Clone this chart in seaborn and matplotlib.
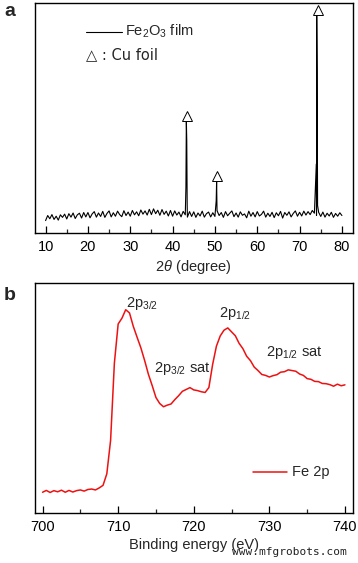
import numpy as np
import pandas as pd
import matplotlib
matplotlib.use("Agg")
import matplotlib.pyplot as plt
import seaborn as sns

# ---------------- data: XRD (panel a) ----------------
xrd_base_theta = np.round(np.arange(10, 80.001, 0.5), 2)
xrd_base_int = [
    5.4, 7.6, 6.2, 8.0, 5.9, 7.3, 5.6, 7.9, 6.8, 8.2,
    6.1, 8.4, 6.9, 8.7, 6.3, 7.9, 8.6, 6.5, 8.9, 7.0,
    8.9, 6.6, 8.3, 9.3, 6.9, 8.7, 7.2, 9.4, 6.8, 8.5,
    9.6, 7.0, 8.8, 7.3, 9.5, 8.0, 7.1, 9.7, 7.6, 9.1,
    7.3, 9.8, 7.9, 9.2, 7.5, 10.0, 8.2, 9.6, 7.8, 10.3,
    8.0, 10.5, 8.4, 9.9, 7.7, 10.2, 8.1, 9.5, 7.4, 9.8,
    7.3, 9.6, 7.8, 9.1, 7.0, 9.4, 7.9, 6.9, 9.3, 7.2,
    9.2, 6.8, 8.7, 7.4, 9.5, 6.9, 8.4, 9.1, 7.0, 8.8,
    7.2, 9.4, 7.6, 8.9, 6.8, 9.3, 7.5, 8.6, 9.6, 7.1,
    8.7, 6.9, 9.2, 7.7, 8.3, 6.6, 9.5, 7.3, 8.9, 7.0,
    9.3, 7.4, 8.1, 9.5, 6.9, 8.6, 7.2, 9.0, 6.7, 8.8,
    7.5, 9.4, 6.5, 8.9, 7.7, 9.2, 7.0, 8.5, 9.6, 7.3,
    9.0, 7.4, 9.5, 7.8, 9.3, 8.0, 9.8, 8.6, 7.6, 9.0,
    7.2, 9.1, 6.9, 8.6, 7.4, 9.0, 6.8, 8.5, 7.3, 8.8,
    7.6,
]
xrd_peak_theta = [43.15, 43.25, 43.35, 43.45, 50.3, 50.4, 50.5, 73.95, 74.05, 74.15, 74.25]
xrd_peak_int = [20.0, 48.9, 40.0, 12.0, 14.0, 22.2, 10.0, 30.0, 94.8, 70.0, 12.0]
cu_theta = [43.5, 50.6, 74.25]
cu_int = [51.0, 24.8, 97.0]

# ---------------- data: XPS (panel b) ----------------
xps_energy = np.round(np.arange(700, 740.001, 0.5), 2)
xps_int = [
    9.0, 9.8, 8.9, 9.7, 9.2, 9.9, 9.0, 9.8, 9.1, 9.7,
    10.0, 9.5, 10.2, 10.4, 10.0, 10.9, 12.0, 17.0, 31.5, 65.0,
    82.0, 84.5, 88.2, 86.8, 81.0, 76.3, 71.7, 66.2, 60.2, 55.3,
    50.1, 47.5, 46.1, 46.8, 47.3, 49.2, 50.9, 52.8, 53.6, 54.4,
    53.4, 53.1, 52.6, 52.3, 54.4, 64.5, 72.4, 76.8, 79.3, 80.3,
    78.6, 76.9, 73.6, 71.3, 68.0, 66.1, 63.3, 61.8, 60.1, 59.7,
    59.0, 59.6, 60.0, 61.1, 61.3, 62.1, 61.8, 61.5, 60.3, 59.7,
    58.3, 58.0, 57.1, 57.0, 56.2, 56.1, 55.7, 55.0, 55.9, 55.2,
    55.6,
]

xrd_theta_all = np.concatenate([xrd_base_theta, xrd_peak_theta])
xrd_int_all = np.concatenate([xrd_base_int, xrd_peak_int])
order = np.argsort(xrd_theta_all)
df_xrd = pd.DataFrame({"theta": xrd_theta_all[order], "I": xrd_int_all[order]})
df_xps = pd.DataFrame({"E": xps_energy, "I": xps_int})

sns.set_theme(style="ticks")
plt.rcParams["font.family"] = ["Liberation Sans", "DejaVu Sans"]
plt.rcParams["mathtext.fontset"] = "custom"
plt.rcParams["mathtext.rm"] = "Liberation Sans"
plt.rcParams["mathtext.it"] = "Liberation Sans:italic"

W, H = 358, 563
fig = plt.figure(figsize=(W / 100, H / 100), dpi=100)
fig.patch.set_facecolor("white")

def ax_rect(l, t, r, b):
    return [l / W, 1 - b / H, (r - l) / W, (b - t) / H]

ax1 = fig.add_axes(ax_rect(35, 3, 352.5, 233))
ax2 = fig.add_axes(ax_rect(35, 282.5, 352.5, 513))

for ax in (ax1, ax2):
    ax.set_facecolor("white")
    for s in ax.spines.values():
        s.set_linewidth(1.0)
        s.set_color("black")
        s.set_visible(True)
    ax.tick_params(axis="x", which="major", direction="in", length=5, width=0.9,
                   labelsize=10.5, pad=5, top=False, colors="black")
    ax.tick_params(axis="x", which="minor", direction="in", length=3, width=0.9, top=False)
    ax.tick_params(axis="y", which="both", left=False, right=False, labelleft=False)
    ax.set_ylim(0, 100)

# panel a
sns.lineplot(data=df_xrd, x="theta", y="I", ax=ax1, color="black", linewidth=0.8,
             sort=False, legend=False)
ax1.plot(cu_theta, cu_int, linestyle="none", marker="^", markersize=6.5,
         markerfacecolor="white", markeredgecolor="black", markeredgewidth=0.7)
ax1.set_xlim(7.5, 82.5)
ax1.set_xticks(np.arange(10, 81, 10))
ax1.set_xticks(np.arange(15, 80, 10), minor=True)
ax1.set_xlabel("2$\\it{\\theta}$ (degree)", fontsize=10.5, labelpad=3)
ax1.set_ylabel("Intensity (a.u.)", fontsize=10.5, labelpad=8)
ax1.plot([0.16, 0.275], [0.875, 0.875], transform=ax1.transAxes, color="black", linewidth=0.8)
ax1.text(0.285, 0.875, "Fe$_2$O$_3$ film", transform=ax1.transAxes, fontsize=10.5,
         va="center", ha="left")
ax1.text(0.16, 0.775, "\u25b3 : Cu foil", transform=ax1.transAxes, fontsize=10.5,
         va="center", ha="left", family=["DejaVu Sans"])

# panel b
sns.lineplot(data=df_xps, x="E", y="I", ax=ax2, color="#ee1111", linewidth=1.1,
             legend=False)
ax2.set_xlim(699, 741)
ax2.set_xticks(np.arange(700, 741, 10))
ax2.set_xticks(np.arange(705, 740, 10), minor=True)
ax2.set_xlabel("Binding energy (eV)", fontsize=10.5, labelpad=3)
ax2.set_ylabel("Intensity (a.u.)", fontsize=10.5, labelpad=8)
ax2.text(711.0, 91, "2p$_{3/2}$", fontsize=10.5, ha="left", va="center")
ax2.text(714.8, 62.5, "2p$_{3/2}$ sat", fontsize=10.5, ha="left", va="center")
ax2.text(723.3, 86.5, "2p$_{1/2}$", fontsize=10.5, ha="left", va="center")
ax2.text(729.6, 69.5, "2p$_{1/2}$ sat", fontsize=10.5, ha="left", va="center")
ax2.plot([0.688, 0.795], [0.18, 0.18], transform=ax2.transAxes, color="#ee1111", linewidth=1.1)
ax2.text(0.81, 0.18, "Fe 2p", transform=ax2.transAxes, fontsize=10.5, va="center", ha="left")

# panel letters
fig.text(4 / W, 1 - 12 / H, "a", fontsize=14, fontweight="bold", va="center", ha="left")
fig.text(4 / W, 1 - 296 / H, "b", fontsize=14, fontweight="bold", va="center", ha="left")

# watermark
fig.text(347 / W, 1 - 552 / H, "www.mfgrobots.com", fontsize=8, ha="right", va="center",
         family=["DejaVu Sans Mono"], color="#222222")

fig.savefig("out.png", dpi=100, facecolor="white")
